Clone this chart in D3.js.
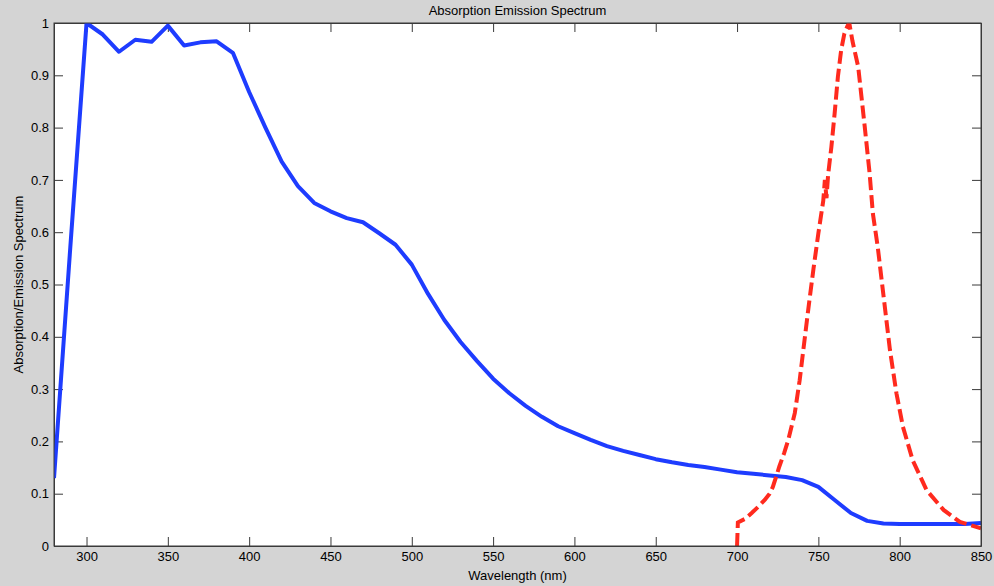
<!DOCTYPE html>
<html>
<head>
<meta charset="utf-8">
<script src="https://cdn.jsdelivr.net/npm/d3@7"></script>
<style>
    body { margin: 0; background: #d4d4d4; overflow: hidden; }
    svg { display: block; font-family: "Liberation Sans", Arial, sans-serif; }
</style>
</head>
<body>
<div id="chart"></div>
<script>
// Absorption spectrum (blue, solid)
const absWavelength = [280, 290, 300, 310, 320, 330, 340, 350, 360, 370, 380, 390, 400, 410, 420, 430, 440, 450, 460, 470,
    480, 490, 500, 510, 520, 530, 540, 550, 560, 570, 580, 590, 600, 610, 620, 630, 640, 650, 660, 670,
    680, 690, 700, 710, 720, 730, 740, 750, 760, 770, 780, 790, 800, 810, 820, 830, 840, 850];
const absValue = [0.13, 0.57, 1.0, 0.978, 0.945, 0.968, 0.964, 0.995, 0.957, 0.963, 0.965, 0.943, 0.868, 0.80, 0.735, 0.688, 0.656, 0.64, 0.627, 0.619,
    0.598, 0.576, 0.538, 0.482, 0.432, 0.39, 0.354, 0.32, 0.292, 0.268, 0.247, 0.229, 0.216, 0.203, 0.191, 0.182, 0.174, 0.166, 0.16, 0.155,
    0.151, 0.146, 0.141, 0.138, 0.135, 0.132, 0.126, 0.113, 0.088, 0.063, 0.048, 0.043, 0.042, 0.042, 0.042, 0.042, 0.042, 0.044];

// Emission spectrum (red, dashed)
const emWavelength = [700, 700.5, 705, 709, 713, 717, 720, 722, 724, 726, 729, 731.5, 735.5, 738.5, 741.5, 744.5, 747, 750,
    753, 754, 755, 756, 758, 760, 762, 764, 766, 768, 769, 771, 774.5, 776.5, 778.5, 781.5, 783.5, 786.5,
    790, 794, 798, 802, 808, 816.5, 827, 837, 850];
const emValue = [0, 0.045, 0.052, 0.063, 0.075, 0.088, 0.1, 0.113, 0.132, 0.152, 0.178, 0.203, 0.254, 0.317, 0.394, 0.47, 0.53, 0.598,
    0.66, 0.7, 0.665, 0.71, 0.763, 0.827, 0.897, 0.948, 0.98, 0.995, 1.0, 0.965, 0.916, 0.859, 0.802, 0.713, 0.636, 0.572,
    0.48, 0.375, 0.292, 0.228, 0.164, 0.107, 0.069, 0.046, 0.034];

const xTicks = [300, 350, 400, 450, 500, 550, 600, 650, 700, 750, 800, 850];
const yTicks = [0, 0.1, 0.2, 0.3, 0.4, 0.5, 0.6, 0.7, 0.8, 0.9, 1];

const width = 994, height = 586;
const margin = {top: 23, right: 13, bottom: 40, left: 54};
const innerWidth = width - margin.left - margin.right;
const innerHeight = height - margin.top - margin.bottom;
const tickLen = 9;

const svg = d3.select('#chart')
    .append('svg')
    .attr('width', width)
    .attr('height', height);

svg.append('rect')
    .attr('width', width)
    .attr('height', height)
    .attr('fill', '#d4d4d4');

const g = svg.append('g')
    .attr('transform', `translate(${margin.left}, ${margin.top})`);

const xScale = d3.scaleLinear().domain([280, 850]).range([0, innerWidth]);
const yScale = d3.scaleLinear().domain([0, 1]).range([innerHeight, 0]);

// plot area
g.append('rect')
    .attr('width', innerWidth)
    .attr('height', innerHeight)
    .attr('fill', '#fff');

g.append('defs').append('clipPath')
    .attr('id', 'plot-clip')
    .append('rect')
    .attr('width', innerWidth)
    .attr('height', innerHeight);

// ticks on all four sides, pointing inward
const axisColor = '#3a3a3a';
const tickFmt = d => String(+d.toFixed(1));

g.append('g')
    .attr('transform', `translate(0, ${innerHeight})`)
    .call(d3.axisBottom(xScale).tickValues(xTicks).tickSizeInner(-tickLen).tickSizeOuter(0).tickPadding(6));
g.append('g')
    .attr('class', 'mirror')
    .call(d3.axisTop(xScale).tickValues(xTicks).tickSizeInner(-tickLen).tickSizeOuter(0));
g.append('g')
    .call(d3.axisLeft(yScale).tickValues(yTicks).tickSizeInner(-tickLen).tickSizeOuter(0).tickPadding(5).tickFormat(tickFmt));
g.append('g')
    .attr('class', 'mirror')
    .attr('transform', `translate(${innerWidth}, 0)`)
    .call(d3.axisRight(yScale).tickValues(yTicks).tickSizeInner(-tickLen).tickSizeOuter(0));

// mirrored axes carry ticks only
g.selectAll('.mirror .tick text').remove();

g.selectAll('.domain').attr('stroke', axisColor);
g.selectAll('.tick line').attr('stroke', axisColor);
g.selectAll('.tick text')
    .attr('fill', '#000')
    .attr('font-size', '13px')
    .attr('font-family', '"Liberation Sans", Arial, sans-serif');

// lines
const absData = absWavelength.map((w, i) => ({w: w, v: absValue[i]}));
const emData = emWavelength.map((w, i) => ({w: w, v: emValue[i]}));

const line = d3.line()
    .x(d => xScale(d.w))
    .y(d => yScale(d.v));

const plot = g.append('g').attr('clip-path', 'url(#plot-clip)');

plot.append('path')
    .datum(absData)
    .attr('d', line)
    .attr('fill', 'none')
    .attr('stroke', '#1e3cff')
    .attr('stroke-width', 4)
    .attr('stroke-linejoin', 'round');

plot.append('path')
    .datum(emData)
    .attr('d', line)
    .attr('fill', 'none')
    .attr('stroke', '#ff2a1e')
    .attr('stroke-width', 4)
    .attr('stroke-dasharray', '13,5');

// box on top
g.append('rect')
    .attr('width', innerWidth)
    .attr('height', innerHeight)
    .attr('fill', 'none')
    .attr('stroke', axisColor);

// title and axis labels
svg.append('text')
    .attr('x', margin.left + innerWidth / 2)
    .attr('y', 15)
    .attr('text-anchor', 'middle')
    .attr('font-size', '13px')
    .text('Absorption Emission Spectrum');

svg.append('text')
    .attr('x', margin.left + innerWidth / 2)
    .attr('y', 580)
    .attr('text-anchor', 'middle')
    .attr('font-size', '13px')
    .text('Wavelength (nm)');

svg.append('text')
    .attr('transform', `translate(23, ${margin.top + innerHeight / 2}) rotate(-90)`)
    .attr('text-anchor', 'middle')
    .attr('font-size', '13px')
    .text('Absorption/Emission Spectrum');
</script>
</body>
</html>
